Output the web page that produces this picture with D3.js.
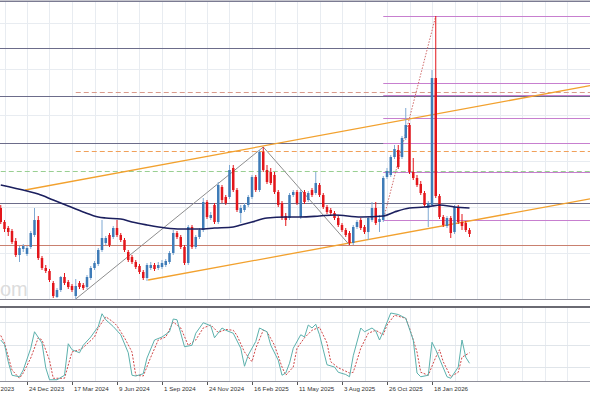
<!DOCTYPE html>
<html><head><meta charset="utf-8">
<script src="https://cdn.jsdelivr.net/npm/d3@7"></script>
<style>html,body{margin:0;padding:0;background:#fff;overflow:hidden}svg{display:block}</style>
</head><body><svg id="c" width="590" height="393"></svg>
<script>
// ---- weekly OHLC (arbitrary price units) ----
const open  = [92,78,72,69,59,45,51,46,53,65,80,42,32,29,17,3,10,23,18,14,4,17,15,13,22,32,36,50,57,65,63,72,65,60,48,43,38,34,28,22,32,35,32,33,35,38,47,67,63,53,37,73,53,63,70,98,82,95,78,113,103,103,132,110,87,90,95,103,123,110,148,130,128,125,108,97,84,82,105,108,83,108,100,110,107,115,105,93,90,87,82,75,70,67,57,73,80,73,68,80,92,78,80,123,125,143,150,143,162,175,128,122,116,107,92,95,222,104,83,74,82,68,93,78,77,70];
const high  = [95,80,74,71,62,54,56,54,69,92,84,44,35,31,19,12,24,27,20,16,21,19,17,25,34,39,52,80,64,67,74,80,67,62,50,45,40,36,30,37,38,37,38,40,41,49,70,69,65,55,75,75,65,72,102,100,88,97,118,115,105,135,135,112,95,97,105,125,125,150,153,135,132,128,110,99,87,107,110,110,110,110,109,112,128,117,107,95,92,89,84,77,72,69,75,80,82,75,84,98,98,85,124,132,145,155,155,164,192,177,142,125,119,109,99,230,284,106,85,84,84,95,95,86,79,72];
const low   = [76,68,64,56,43,38,48,44,51,63,40,30,27,18,2,2,8,15,11,8,1,11,10,11,20,30,34,48,55,53,61,63,58,48,38,36,31,26,20,19,30,29,30,31,33,36,45,61,51,35,35,51,51,61,68,81,80,76,76,97,95,101,108,88,77,88,93,101,108,108,128,116,115,106,93,80,74,80,103,95,81,96,98,103,105,103,91,86,85,80,73,68,63,55,55,71,70,66,60,78,75,68,78,121,123,141,131,141,160,126,120,113,105,93,73,93,102,81,73,72,62,66,76,70,68,63];
const close = [78,71,68,58,45,52,54,52,67,80,42,32,29,20,4,10,23,17,13,10,14,13,12,23,32,37,50,62,62,55,72,65,60,50,40,38,33,28,22,35,35,31,35,37,39,47,67,63,53,37,73,53,63,70,98,83,85,78,115,100,97,130,110,90,92,95,103,123,110,148,130,118,117,108,95,82,80,105,108,97,108,98,107,105,117,105,93,88,87,82,75,70,65,57,73,78,72,68,82,92,77,81,122,129,143,151,133,162,175,128,122,115,107,95,97,222,104,83,75,82,67,93,78,74,70,66];

// moving average, read as [week index, value]
const maPts = [[0,115],[7,109],[10,106],[14,100],[18,94],[22,88],[26,83],[28,82],[32,81],[35,78],[39,75],[44,72],[48,71],[53,71],[57,72],[62,73],[64,75],[67,78],[71,82],[76,83],[80,83],[85,84],[89,85],[96,83],[102,84],[105,88],[109,92],[113,93],[115,94],[117,95],[121,93],[125,92]];

// stochastic %K and %D, read as [week index, value]
const stochK = [[0,56],[1,50],[2,27],[3,9],[5,7],[6,16],[8,45],[9,67],[11,52],[12,19],[13,3],[15,3],[17,9],[18,51],[19,43],[21,39],[22,49],[24,60],[26,74],[27,91],[28,83],[30,74],[32,63],[34,39],[35,9],[36,8],[38,11],[39,32],[41,56],[43,60],[45,67],[46,84],[47,83],[49,47],[51,49],[52,65],[54,79],[56,75],[57,59],[59,72],[60,69],[62,65],[64,45],[65,21],[66,36],[68,54],[69,72],[71,67],[72,49],[74,29],[75,9],[76,12],[77,25],[78,45],[80,63],[81,60],[82,76],[83,72],[84,77],[85,63],[86,43],[87,23],[89,20],[90,13],[92,10],[93,7],[94,35],[96,72],[97,67],[99,72],[100,68],[101,56],[102,67],[104,92],[106,90],[108,85],[110,56],[111,12],[112,7],[114,9],[115,53],[116,43],[118,19],[119,7],[120,5],[122,20],[123,56],[124,33],[125,25]];
const stochD = [[0,62],[1,52],[3,16],[5,5],[6,12],[8,32],[10,59],[11,56],[13,29],[14,5],[17,5],[19,40],[21,43],[22,46],[25,60],[26,72],[28,87],[30,80],[31,75],[33,59],[35,40],[36,9],[38,8],[40,33],[42,56],[44,60],[46,80],[48,72],[50,49],[52,56],[54,72],[56,76],[58,66],[60,70],[62,69],[63,62],[65,40],[67,27],[68,45],[70,69],[71,67],[73,49],[75,20],[76,9],[78,20],[79,45],[81,59],[83,69],[85,73],[87,52],[88,27],[90,19],[93,12],[94,13],[96,45],[98,65],[100,69],[102,63],[103,76],[105,89],[108,85],[109,72],[111,40],[112,13],[114,9],[116,33],[117,43],[118,27],[120,7],[122,13],[123,33],[125,39]];

// x-axis tick labels (every 12 weeks) and their week index; first label is only partly in view
const tickLabels = ["2023","24 Dec 2023","17 Mar 2024","9 Jun 2024","1 Sep 2024","24 Nov 2024","16 Feb 2025","11 May 2025","3 Aug 2025","26 Oct 2025","18 Jan 2026"];
const tickIdx = [-5,7,19,31,43,55,67,79,91,103,115];

// analyst drawings
const darkLevels = [299,252,204,157,97];
const fibLevels = [284,217,205,182,157,128,80];
const fibStart = 102;
const redLevel = 55;
const dashedLevels = [{v:208,from:20,c:"#d99a8c"},{v:149,from:20,c:"#f0a05a"},{v:129,from:0,c:"#99cf92"}];
const channel = [{i1:6.5,v1:110,i2:70,v2:154},{i1:39.3,v1:20,i2:93,v2:57}];
const zigzag = [[20,1],[70,153],[93,55]];
const fibLeg = [[102,80],[116,284]];

const svg = d3.select("#c");
const W = 590;
const x = d3.scaleLinear().domain([0,125]).range([0.75,469.5]);
const y = d3.scaleLinear().domain([0,300]).range([300,0]);
const ys = d3.scaleLinear().domain([0,100]).range([382,307]);
const xMax = x.invert(W);

svg.append("defs").append("clipPath").attr("id","mc").append("rect").attr("x",0).attr("y",1).attr("width",W).attr("height",298);

// grid
const gridIdx = d3.range(1, Math.ceil(xMax)+1, 6);
const grid = svg.append("g").attr("stroke","#e8ecf1").attr("stroke-width",1);
gridIdx.forEach(i=>{
  const gx = Math.round(x(i))+0.5;
  grid.append("line").attr("x1",gx).attr("x2",gx).attr("y1",1).attr("y2",299);
  grid.append("line").attr("x1",gx).attr("x2",gx).attr("y1",307).attr("y2",381);
});
[277,231,185,139,93,47].forEach(v=>{
  const gy = Math.round(y(v))+0.5;
  grid.append("line").attr("x1",0).attr("x2",W).attr("y1",gy).attr("y2",gy);
});

const m = svg.append("g").attr("clip-path","url(#mc)");

// watermark (only its tail is in view)
m.append("text").attr("x",0).attr("y",296)
  .attr("font-family","Liberation Sans, Arial, sans-serif").attr("font-size",20)
  .attr("fill","#dcdcdc").text("om");

// horizontal levels
darkLevels.forEach(v=>{
  const gy = Math.round(y(v))+0.5;
  m.append("line").attr("x1",0).attr("x2",W).attr("y1",gy).attr("y2",gy).attr("stroke","#6c6c8a").attr("stroke-width",1);
});
m.append("line").attr("x1",0).attr("x2",W).attr("y1",Math.round(y(redLevel))+0.5).attr("y2",Math.round(y(redLevel))+0.5).attr("stroke","#c9806f");
dashedLevels.forEach(d=>{
  const gy = Math.round(y(d.v))+0.5;
  m.append("line").attr("x1",x(d.from)).attr("x2",W).attr("y1",gy).attr("y2",gy).attr("stroke",d.c).attr("stroke-dasharray","5,3").attr("stroke-width",1);
});
fibLevels.forEach(v=>{
  const gy = Math.round(y(v))+0.5;
  m.append("line").attr("x1",x(fibStart)).attr("x2",W).attr("y1",gy).attr("y2",gy).attr("stroke","#c77fcf").attr("stroke-width",1);
});

// channel (extended rays)
channel.forEach(c=>{
  const s = (c.v2-c.v1)/(c.i2-c.i1);
  m.append("line").attr("x1",x(c.i1)).attr("y1",y(c.v1)).attr("x2",x(xMax)).attr("y2",y(c.v1+s*(xMax-c.i1)))
   .attr("stroke","#f2a12e").attr("stroke-width",1.3);
});

// zigzag
m.append("path").attr("d",d3.line().x(d=>x(d[0])).y(d=>y(d[1]))(zigzag)).attr("fill","none").attr("stroke","#8e8e8e").attr("stroke-width",1);
m.append("path").attr("d",d3.line().x(d=>x(d[0])).y(d=>y(d[1]))(fibLeg)).attr("fill","none").attr("stroke","#d06a6a").attr("stroke-width",1).attr("stroke-dasharray","1.5,1.5");

// candles
const cg = m.append("g");
open.forEach((o,i)=>{
  const c = close[i], up = c>=o, col = up?"#3f7cb8":"#e3161b";
  const cx = x(i);
  cg.append("line").attr("x1",cx).attr("x2",cx).attr("y1",y(high[i])).attr("y2",y(low[i])).attr("stroke",up?"#7fa9d3":col).attr("stroke-width",1);
  const top = y(Math.max(o,c)), bot = y(Math.min(o,c));
  cg.append("rect").attr("x",cx-1.25).attr("width",2.5).attr("y",top).attr("height",Math.max(1,bot-top)).attr("fill",col);
});

// moving average
m.append("path").attr("d",d3.line().curve(d3.curveMonotoneX).x(d=>x(d[0])).y(d=>y(d[1]))(maPts))
  .attr("fill","none").attr("stroke","#1b1f5e").attr("stroke-width",1.6);

// panel borders
svg.append("line").attr("x1",0).attr("x2",W).attr("y1",1).attr("y2",1).attr("stroke","#8a8a9a");
svg.append("line").attr("x1",0).attr("x2",W).attr("y1",299.5).attr("y2",299.5).attr("stroke","#8f8f9a");
svg.append("line").attr("x1",0).attr("x2",W).attr("y1",307).attr("y2",307).attr("stroke","#6a6a72").attr("stroke-width",2);
svg.append("line").attr("x1",0).attr("x2",W).attr("y1",381.5).attr("y2",381.5).attr("stroke","#8f8f9a");

// stochastic panel
[80,50,20].forEach(v=>{
  const gy = Math.round(ys(v))+0.5;
  svg.append("line").attr("x1",0).attr("x2",W).attr("y1",gy).attr("y2",gy).attr("stroke","#e0e5ea");
});
svg.append("path").attr("d",d3.line().x(d=>x(d[0])).y(d=>ys(d[1]))(stochD)).attr("fill","none").attr("stroke","#d04848").attr("stroke-width",1).attr("stroke-dasharray","2,1.5");
svg.append("path").attr("d",d3.line().x(d=>x(d[0])).y(d=>ys(d[1]))(stochK)).attr("fill","none").attr("stroke","#5cb1ad").attr("stroke-width",1);

// x axis
const ax = svg.append("g");
tickLabels.forEach((t,k)=>{
  const tx = Math.round(x(tickIdx[k]))+0.5;
  ax.append("line").attr("x1",tx).attr("x2",tx).attr("y1",382).attr("y2",385).attr("stroke","#555");
  ax.append("text").attr("x",k===0?0.5:tx+1.5).attr("y",390.5).attr("font-family","Liberation Sans, Arial, sans-serif")
    .attr("font-size",6.2).attr("fill","#333").text(t);
});
</script></body></html>
